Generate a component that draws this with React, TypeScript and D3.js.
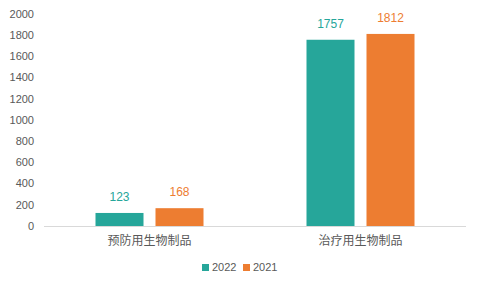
import React from "react";
import * as d3 from "d3";

const categories = ["预防用生物制品", "治疗用生物制品"];
const seriesNames = ["2022", "2021"];
const values2022 = [123, 1757];
const values2021 = [168, 1812];
const yTicks = [0, 200, 400, 600, 800, 1000, 1200, 1400, 1600, 1800, 2000];
const colors = ["#26A69A", "#ED7D31"];

export default function App() {
  const W = 480, H = 288;
  const left = 44, right = 466, top = 14, bottom = 226;
  const x = d3.scaleBand().domain(categories).range([left, right]);
  const y = d3.scaleLinear().domain([0, 2000]).range([bottom, top]);
  const series = [values2022, values2021];
  const barW = 48, gap = 12;
  const font = "'Liberation Sans', Arial, 'Noto Sans CJK SC', sans-serif";
  return (
    <svg width={W} height={H} style={{ position: "absolute", left: 0, top: 0 }} fontFamily={font}>
      <rect width={W} height={H} fill="#fff" />
      {yTicks.map((t) => (
        <text key={t} x={34} y={y(t)} dy="0.35em" textAnchor="end" fontSize={11} fill="#595959">
          {t}
        </text>
      ))}
      <line x1={left} x2={right} y1={bottom + 0.5} y2={bottom + 0.5} stroke="#d9d9d9" />
      {categories.map((c, i) => {
        const cx = x(c)! + x.bandwidth() / 2;
        return (
          <g key={c}>
            {series.map((s, j) => {
              const bx = j === 0 ? cx - gap / 2 - barW : cx + gap / 2;
              return (
                <g key={j}>
                  <rect x={bx} y={y(s[i])} width={barW} height={bottom - y(s[i])} fill={colors[j]} />
                  <text x={bx + barW / 2} y={y(s[i]) - 12} textAnchor="middle" fontSize={12} fill={colors[j]}>
                    {s[i]}
                  </text>
                </g>
              );
            })}
            <text x={cx} y={245} textAnchor="middle" fontSize={12} fill="#595959">
              {c}
            </text>
          </g>
        );
      })}
      {seriesNames.map((n, j) => {
        const lx = 202 + j * 41;
        return (
          <g key={n}>
            <rect x={lx} y={264} width={7} height={7} fill={colors[j]} />
            <text x={lx + 10} y={271} fontSize={11} fill="#595959">
              {n}
            </text>
          </g>
        );
      })}
    </svg>
  );
}
